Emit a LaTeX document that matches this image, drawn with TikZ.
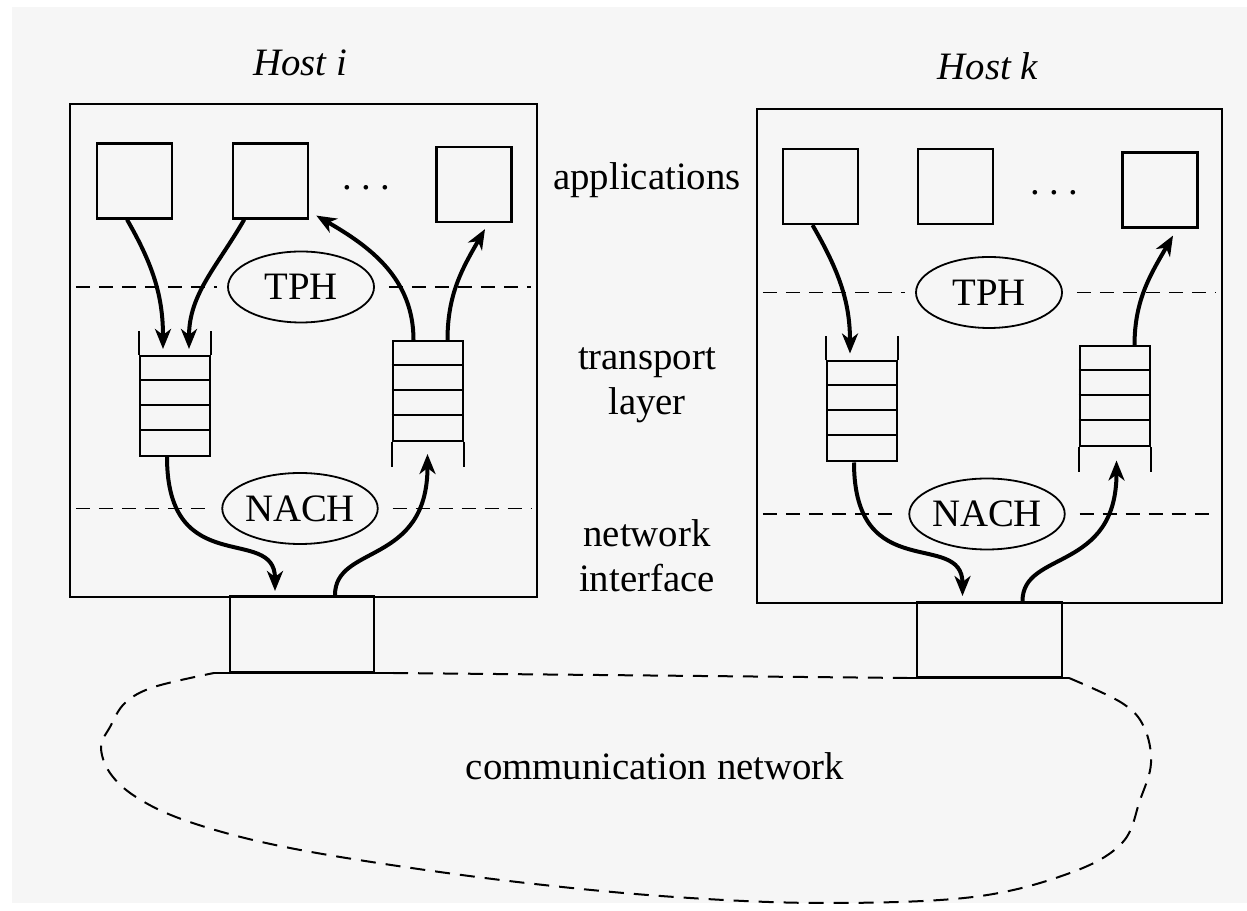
\documentclass[tikz,border=0pt]{standalone}
\usepackage{fontspec}
\setmainfont{Liberation Serif}
\usepackage{tikz}
\usetikzlibrary{shapes,positioning,arrows.meta}
\definecolor{paper}{RGB}{246,246,246}
\newcommand{\appdots}{.\kern4.6pt.\kern4.6pt.}

\begin{document}
\begin{tikzpicture}[x=0.5pt,y=0.5pt,font=\fontsize{19.4}{22.5}\selectfont]
    \tikzstyle{host} = [draw,rectangle,line width=1.1pt,inner sep=0pt]
    \tikzstyle{app} = [draw,rectangle,line width=1.1pt,minimum size=37.5pt,inner sep=0pt]
    \tikzstyle{proto} = [draw,ellipse,line width=0.9pt,minimum width=73pt,minimum height=35.5pt,inner sep=0pt]
    \tikzstyle{queue} = [draw,rectangle,line width=1pt,minimum width=35pt,minimum height=50pt,inner sep=0pt]
    \tikzstyle{nic} = [draw,rectangle,line width=1pt,minimum width=72pt,minimum height=38pt,inner sep=0pt]
    \tikzstyle{mylabel} = [align=center,inner sep=0pt]
    \tikzstyle{flowarrow} = [line width=2pt,-{Stealth[length=10pt,width=8pt,inset=3pt]}]
    \tikzstyle{layerline} = [line width=0.9pt,dash pattern=on 7pt off 4.5pt]
    \tikzstyle{netline} = [line width=1pt,dash pattern=on 7.5pt off 5pt]
    % page
    \fill[white] (0,0) rectangle (1247,910);
    \fill[paper] (12,7) rectangle (1247,903);
    \useasboundingbox (0,0) rectangle (1247,910);
    % hosts
    \node[host,minimum width=233.5pt,minimum height=246.5pt] (hosti) at (303.5,559.5) {};
    \node[host,minimum width=232.5pt,minimum height=247pt] (hostk) at (989.5,554) {};
    \node (label1) at (300,847) {\textit{Host i}};
    \node (label2) at (988,844) {\textit{Host k}};
    % applications
    \node[app] (appi1) at (134.5,729) {};
    \node[app] (appi2) [right=29.5pt of appi1] {};
    \node[app] (appi3) at (474,725.5) {};
    \node (dotsi) at (366,722) {\appdots};
    \node[app] (appk1) at (820.5,723.5) {};
    \node[app] (appk2) [right=29pt of appk1] {};
    \node[app] (appk3) at (1160,720) {};
    \node (dotsk) at (1054,717) {\appdots};
    % layer names
    \node[mylabel] (label3) at (647,730) {applications};
    \node[mylabel] (label4) at (647,525) {transport\\layer};
    \node[mylabel] (label5) at (647,354) {network\\interface};
    \node[mylabel] (label6) at (655,144) {communication network};
    % TPH and NACH
    \node[proto] (tphi) at (301,623) {TPH};
    \node[proto] (nachi) at (300,401.5) {NACH};
    \node[proto] (tphk) at (989,617.5) {TPH};
    \node[proto] (nachk) at (987,396) {NACH};
    \foreach \h/\e in {hosti/tphi,hosti/nachi,hostk/tphk,hostk/nachk} {
        \draw[layerline,shorten <=3.5pt,shorten >=5pt] (\h.west |- \e) -- (\e.west);
        \draw[layerline,shorten <=7pt,shorten >=3.5pt] (\e.east) -- (\h.east |- \e);
    }
    % queues
    \node[queue] (qini) at (175,504) {};
    \node[queue] (qouti) at (427.5,519) {};
    \node[queue] (qink) at (862,498.5) {};
    \node[queue] (qoutk) at (1114.5,513.5) {};
    \foreach \q in {qini,qouti,qink,qoutk}
        \foreach \k in {1,2,3}
            \draw[line width=1pt] ([yshift=-\k*12.5pt]\q.north west) -- ([yshift=-\k*12.5pt]\q.north east);
    \foreach \q in {qini,qink}
        \draw[line width=1pt] (\q.north west) -- ++(0,24) (\q.north east) -- ++(0,24);
    \foreach \q in {qouti,qoutk}
        \draw[line width=1pt] (\q.south west) -- ++(0,-25) (\q.south east) -- ++(0,-25);
    % network interfaces and network
    \node[nic] (nici) at (302,276) {};
    \node[nic,minimum width=72.5pt,minimum height=37.5pt] (nick) at (989.5,270.5) {};
    \coordinate (nici-l) at ([xshift=-7.5pt]nici.south west);
    \coordinate (nici-r) at ([xshift=9pt]nici.south east);
    \coordinate (nick-l) at ([xshift=-4.5pt]nick.south west);
    \coordinate (nick-r) at ([xshift=3pt]nick.south east);
    \draw[line width=1.2pt] (nici-l) -- (nici-r) (nick-l) -- (nick-r);
    \draw[netline] (nici-r) -- (nick-l);
    \draw[netline] plot[smooth,tension=0.6] coordinates {(nick-r) (1122,207) (1144,183) (1151,147) (1140,110) (1122,67) (1070,37) (973,13) (824,7) (675,13) (526,27) (378,47) (266,67) (184,90) (136,113) (110,137) (101,163) (110,183) (125,207) (154,223) (nici-l)};
    % flows in host i
    \draw[flowarrow] ([xshift=-3.75pt]appi1.south) to[out=-60,in=90] ([xshift=-6pt,yshift=3pt]qini.north);
    \draw[flowarrow] ([xshift=-13.25pt]appi2.south) to[out=-120,in=90] ([xshift=7pt,yshift=3pt]qini.north);
    \draw[flowarrow] ([xshift=-7pt]qouti.north) to[out=90,in=-30] ([xshift=3.5pt,yshift=2pt]appi2.south east);
    \draw[flowarrow] ([xshift=10pt]qouti.north) to[out=90,in=-120] ([xshift=5.5pt,yshift=-3pt]appi3.south);
    \draw[flowarrow] ([xshift=-4pt]qini.south) .. controls +(0,-124) and +(0,67) .. ([xshift=-13.5pt,yshift=2pt]nici.north);
    \draw[flowarrow] ([xshift=16.5pt]nici.north) .. controls +(0,51) and +(0,-112) .. ([yshift=-6pt]qouti.south);
    % flows in host k
    \draw[flowarrow] ([xshift=-4pt]appk1.south) to[out=-60,in=90] ([xshift=-6pt,yshift=3.5pt]qink.north);
    \draw[flowarrow] ([xshift=10pt]qoutk.north) to[out=90,in=-120] ([xshift=6.5pt,yshift=-3.5pt]appk3.south);
    \draw[flowarrow] ([xshift=-4pt]qink.south) .. controls +(0,-124) and +(0,67) .. ([xshift=-13.5pt,yshift=2.5pt]nick.north);
    \draw[flowarrow] ([xshift=16.5pt]nick.north) .. controls +(0,51) and +(0,-112) .. ([xshift=1pt,yshift=-6.5pt]qoutk.south);
\end{tikzpicture}
\end{document}
